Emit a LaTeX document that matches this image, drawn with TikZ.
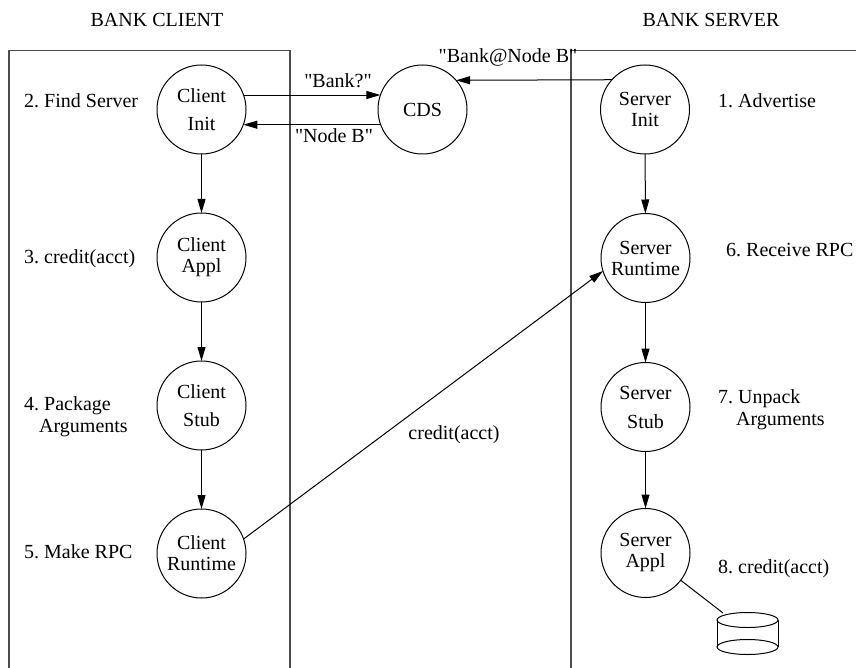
\documentclass[tikz,border=0pt]{standalone}
\usepackage{fontspec}
\setmainfont{Liberation Serif}[Ligatures=TeXOff]
\usetikzlibrary{arrows.meta}
\frenchspacing
\begin{document}
\begin{tikzpicture}[x=1pt,y=-1pt,
  every node/.style={font=\fontsize{20}{24}\selectfont},
  proc/.style={circle,draw,line width=1pt,minimum size=89pt,inner sep=1pt,outer sep=0pt,align=center},
  lbl/.style={inner sep=0pt,anchor=base west},
  clbl/.style={inner sep=0pt,anchor=base},
  arr/.style={line width=1pt,-{Triangle[length=14pt,width=8pt]}},
  lane/.style={draw=black!70,line width=1.3pt}
]
\useasboundingbox (0,0) rectangle (856,668);
% lanes
\draw[lane] (9,668) -- (9,50.7) -- (290,50.7) -- (290,668);
\draw[lane] (571,668) -- (571,50.7) -- (856,50.7);
\node[clbl] (tclient) at (157,27) {BANK CLIENT};
\node[clbl] (tserver) at (711,27) {BANK SERVER};
% processes
\node[proc,font=\fontsize{20}{28}\selectfont] (cinit) at (201.5,109.5) {Client\\Init};
\node[proc,font=\fontsize{20}{21}\selectfont] (capp) at (201.5,257.5) {Client\\Appl};
\node[proc,font=\fontsize{20}{28}\selectfont] (cstub) at (201.5,405.5) {Client\\Stub};
\node[proc,font=\fontsize{20}{21}\selectfont] (crun) at (201.5,553.5) {Client\\Runtime};
\node[proc] (cds) at (422.5,109.5) {CDS};
\node[proc,font=\fontsize{20}{21}\selectfont] (sinit) at (645,109.5) {Server\\Init};
\node[proc,font=\fontsize{20}{21}\selectfont] (srun) at (645.5,258) {Server\\Runtime};
\node[proc,font=\fontsize{20}{29}\selectfont] (sstub) at (645.5,407) {Server\\Stub};
\node[proc,font=\fontsize{20}{21}\selectfont] (sappl) at (645.5,553) {Server\\Appl};
% database
\draw[line width=1pt] (717,620) -- (717,647) (778,620) -- (778,647);
\draw[line width=1pt] (747.5,620) ellipse [x radius=30.5,y radius=7.5];
\draw[line width=1pt] (747.5,647) ellipse [x radius=30.5,y radius=7.5];
\coordinate (dbtop) at (723,613);
\draw[line width=1pt] (sappl) -- (dbtop);
% step labels
\node[lbl] (l2) at (24,108) {2. Find Server};
\node[lbl] (l3) at (24,263) {3. credit(acct)};
\node[lbl] (l4a) at (24,410) {4. Package};
\node[lbl] (l4b) at (39,432) {Arguments};
\node[lbl] (l5) at (24,558) {5. Make RPC};
\node[lbl] (l1) at (718,108) {1. Advertise};
\node[lbl] (l6) at (726,256) {6. Receive RPC};
\node[lbl] (l7a) at (718,403) {7. Unpack};
\node[lbl] (l7b) at (736,425) {Arguments};
\node[lbl] (l8) at (718,573) {8. credit(acct)};
% messages
\draw[arr] (cinit.19) -- (cds.161);
\draw[arr] (cds.200) -- (cinit.-20);
\draw[arr] (sinit.138.5) -- (cds.41.5);
\node[clbl] (m1) at (338,88) {"Bank?"};
\node[clbl] (m2) at (334,143) {"Node B"};
\node[clbl] (m3) at (508,63) {"Bank@Node B"};
\draw[arr] (cinit) -- (capp);
\draw[arr] (capp) -- (cstub);
\draw[arr] (cstub) -- (crun);
\draw[arr] (sinit) -- (srun);
\draw[arr] (srun) -- (sstub);
\draw[arr] (sstub) -- (sappl);
\draw[arr] (crun.19) -- (srun.197.5);
\node[clbl] (m4) at (454,439) {credit(acct)};
\end{tikzpicture}
\end{document}
